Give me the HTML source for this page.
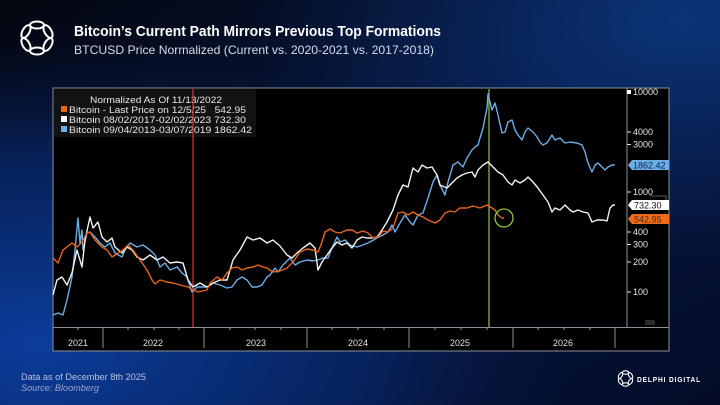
<!DOCTYPE html>
<html><head><meta charset="utf-8"><style>
html,body{margin:0;padding:0;width:720px;height:405px;overflow:hidden;background:#050c22;}
svg{display:block;font-family:"Liberation Sans",sans-serif;}
</style></head><body>
<svg width="720" height="405" viewBox="0 0 720 405" xmlns="http://www.w3.org/2000/svg">
<defs>
<radialGradient id="g1" cx="0.05" cy="0.85" r="0.75">
<stop offset="0" stop-color="#0b3d9c"/><stop offset="0.6" stop-color="#082a70" stop-opacity="0.7"/><stop offset="1" stop-color="#061a48" stop-opacity="0"/>
</radialGradient>
<radialGradient id="g2" cx="0.95" cy="0.05" r="0.6">
<stop offset="0" stop-color="#0c3478"/><stop offset="1" stop-color="#0a2a66" stop-opacity="0"/>
</radialGradient>
<linearGradient id="g0" x1="0" y1="0" x2="1" y2="1">
<stop offset="0" stop-color="#03060f"/><stop offset="0.5" stop-color="#061842"/><stop offset="1" stop-color="#040c28"/>
</linearGradient>
</defs>
<rect width="720" height="405" fill="url(#g0)"/>
<rect width="720" height="405" fill="url(#g1)"/>
<rect width="720" height="405" fill="url(#g2)"/>

<!-- logo -->
<g fill="none" stroke="#ffffff" stroke-width="2">
<ellipse cx="37" cy="25" rx="7" ry="3.5"/>
<ellipse cx="48" cy="31.5" rx="7" ry="3.5" transform="rotate(60 48 31.5)"/>
<ellipse cx="48" cy="44.5" rx="7" ry="3.5" transform="rotate(-60 48 44.5)"/>
<ellipse cx="37" cy="51" rx="7" ry="3.5"/>
<ellipse cx="26" cy="44.5" rx="7" ry="3.5" transform="rotate(60 26 44.5)"/>
<ellipse cx="26" cy="31.5" rx="7" ry="3.5" transform="rotate(-60 26 31.5)"/>
</g>

<text x="74" y="36" fill="#ffffff" font-size="15" font-weight="bold" textLength="367" lengthAdjust="spacingAndGlyphs">Bitcoin’s Current Path Mirrors Previous Top Formations</text>
<text x="74" y="54" fill="#d6dbe8" font-size="12" textLength="360" lengthAdjust="spacingAndGlyphs">BTCUSD Price Normalized (Current vs. 2020-2021 vs. 2017-2018)</text>

<!-- panel -->
<rect x="53" y="88" width="616" height="263" fill="#000000" stroke="#8a8f99" stroke-width="1"/>
<line x1="627" y1="88" x2="627" y2="327" stroke="#8a8f99" stroke-width="1"/>
<line x1="53" y1="327.5" x2="669" y2="327.5" stroke="#8a8f99" stroke-width="1"/>

<!-- legend -->
<rect x="54" y="89" width="202" height="48" fill="#121212"/>
<text x="90" y="103" fill="#e6e6e6" font-size="9" textLength="132" lengthAdjust="spacingAndGlyphs">Normalized As Of 11/13/2022</text>
<rect x="61" y="106" width="6" height="6" fill="#e8651a"/>
<rect x="61" y="116" width="6" height="6" fill="#ffffff"/>
<rect x="61" y="126" width="6" height="6" fill="#6aaee8"/>
<text x="69" y="113" fill="#e6e6e6" font-size="9" xml:space="preserve" textLength="177" lengthAdjust="spacingAndGlyphs">Bitcoin - Last Price on 12/5/25   542.95</text>
<text x="69" y="123" fill="#e6e6e6" font-size="9" textLength="177" lengthAdjust="spacingAndGlyphs">Bitcoin 08/02/2017-02/02/2023 732.30</text>
<text x="69" y="133" fill="#e6e6e6" font-size="9" textLength="183" lengthAdjust="spacingAndGlyphs">Bitcoin 09/04/2013-03/07/2019 1862.42</text>

<!-- vertical markers -->
<line x1="193" y1="89" x2="193" y2="327" stroke="#e0303a" stroke-width="1.2"/>
<line x1="489" y1="89" x2="489" y2="327" stroke="#8cc63f" stroke-width="1.2"/>

<!-- series -->
<g fill="none" stroke-width="1.4" stroke-linejoin="round">
<polyline stroke="#6aaee8" points="53,315 58,313 63,315 67,300 72,277 75,250 78,218 80,243 82,230 83,250 87,233 90,232 95,237 100,243 105,247 110,243 115,253 122,257 125,250 130,243 137,247 143,245 150,250 155,255 160,267 165,263 170,270 177,267 182,273 187,277 192,292 197,287 203,287 208,287 213,283 220,285 227,288 232,287 237,280 242,277 247,280 252,287 257,287 262,285 267,277 270,275 275,268 278,272 283,265 290,258 295,265 300,262 307,260 313,261 318,260 323,258 328,258 332,248 337,237 340,242 345,240 350,245 357,247 363,245 370,242 377,238 383,235 388,232 392,225 395,232 400,223 405,215 410,222 413,225 418,215 423,213 428,198 433,182 437,175 440,185 445,195 448,182 453,165 458,162 463,167 467,158 472,150 475,147 478,145 480,138 483,128 487,108 488,94 492,110 495,103 498,115 502,133 505,132 508,122 512,120 515,130 518,135 522,140 525,132 528,128 533,132 537,137 540,142 543,145 547,143 552,135 555,140 560,138 565,143 570,142 577,143 582,145 585,152 588,163 592,172 595,165 598,163 602,167 605,170 608,167 612,165 615,165"/>
<polyline stroke="#f2f2f2" points="53,295 57,280 62,277 67,285 72,273 77,250 82,267 85,240 90,217 93,228 98,222 102,237 107,242 112,238 115,247 122,253 127,247 132,250 137,257 143,260 150,255 157,260 163,257 170,263 177,262 183,263 188,280 193,287 200,283 207,287 213,283 220,280 227,280 233,260 240,250 247,237 253,240 260,238 267,243 273,240 280,246 287,255 292,258 297,253 303,248 310,243 315,248 318,270 322,262 327,255 332,248 337,242 342,245 347,243 352,248 357,240 362,237 367,238 372,238 377,237 382,230 387,222 393,210 398,195 403,185 408,187 413,168 418,172 422,165 427,168 432,167 437,175 440,185 447,188 452,183 457,178 462,175 467,173 472,172 475,177 478,170 483,165 488,162 493,167 498,172 503,175 508,182 512,185 515,180 520,183 525,180 528,177 533,182 538,188 543,195 548,202 552,212 555,208 560,210 565,205 570,210 573,212 578,210 583,212 588,213 592,222 597,220 603,220 607,221 610,208 613,205 615,205"/>
<polyline stroke="#e8651a" points="53,258 58,263 63,250 72,243 77,247 82,242 87,233 90,232 95,240 102,247 107,250 112,257 118,253 123,250 128,245 133,250 140,260 147,270 152,280 155,284 160,280 167,282 173,283 180,285 188,287 193,290 198,292 207,290 210,283 217,277 222,280 227,273 232,268 237,267 242,270 247,268 253,267 258,265 263,267 267,268 273,272 280,271 287,268 293,262 300,252 307,249 313,250 318,252 322,242 325,232 330,229 335,232 340,233 347,230 352,230 357,233 363,231 368,233 373,238 378,237 383,231 388,232 393,228 398,213 403,212 408,215 413,212 418,215 423,217 428,220 435,223 440,220 445,213 450,211 455,212 460,208 467,208 473,206 480,208 487,205 492,208 495,210 498,215 502,218 504,218"/>
</g>
<circle cx="504" cy="218" r="9" fill="none" stroke="#8cc63f" stroke-width="1.3"/>

<!-- y axis -->
<g stroke="#dddddd" stroke-width="1">
<line x1="627" y1="92" x2="631" y2="92"/>
<line x1="627" y1="132" x2="631" y2="132"/>
<line x1="627" y1="144.5" x2="631" y2="144.5"/>
<line x1="627" y1="192" x2="631" y2="192"/>
<line x1="627" y1="232" x2="631" y2="232"/>
<line x1="627" y1="244.5" x2="631" y2="244.5"/>
<line x1="627" y1="262" x2="631" y2="262"/>
<line x1="627" y1="292" x2="631" y2="292"/>
</g>
<polygon points="627,90 631,90 631,94 627,94" fill="#ffffff"/>
<g fill="#e8e8e8" font-size="9">
<text x="633" y="95">10000</text>
<text x="633" y="135">4000</text>
<text x="633" y="147.5">3000</text>
<text x="633" y="195">1000</text>
<text x="633" y="235">400</text>
<text x="633" y="247.5">300</text>
<text x="633" y="265">200</text>
<text x="633" y="295">100</text>
</g>
<polyline points="650,196 666,196 666,200" fill="none" stroke="#777" stroke-width="0.8"/>
<!-- tags -->
<polygon points="628,165 632,160 669,160 669,170 632,170" fill="#6aaee8"/>
<text x="633" y="168.5" fill="#0b2344" font-size="9">1862.42</text>
<polygon points="628,205 632,200 669,200 669,210 632,210" fill="#ffffff"/>
<text x="634" y="208.5" fill="#111111" font-size="9">732.30</text>
<polygon points="628,219 632,214 669,214 669,224 632,224" fill="#f06a1c"/>
<text x="634" y="222.5" fill="#4a2a18" font-size="9">542.95</text>
<rect x="645" y="320" width="10" height="5" fill="#2a2a2a"/>

<!-- x axis -->
<g stroke="#8a8f99" stroke-width="1">
<line x1="103" y1="327" x2="103" y2="348"/>
<line x1="204" y1="327" x2="204" y2="348"/>
<line x1="307" y1="327" x2="307" y2="348"/>
<line x1="409" y1="327" x2="409" y2="348"/>
<line x1="513" y1="327" x2="513" y2="348"/>
<line x1="615" y1="327" x2="615" y2="348"/>
</g>
<g stroke="#8a8f99" stroke-width="1">
<line x1="78" y1="327" x2="78" y2="330"/>
<line x1="128" y1="327" x2="128" y2="330"/><line x1="154" y1="327" x2="154" y2="330"/><line x1="179" y1="327" x2="179" y2="330"/>
<line x1="230" y1="327" x2="230" y2="330"/><line x1="255" y1="327" x2="255" y2="330"/><line x1="281" y1="327" x2="281" y2="330"/>
<line x1="332" y1="327" x2="332" y2="330"/><line x1="358" y1="327" x2="358" y2="330"/><line x1="384" y1="327" x2="384" y2="330"/>
<line x1="435" y1="327" x2="435" y2="330"/><line x1="461" y1="327" x2="461" y2="330"/><line x1="487" y1="327" x2="487" y2="330"/>
<line x1="538" y1="327" x2="538" y2="330"/><line x1="564" y1="327" x2="564" y2="330"/><line x1="590" y1="327" x2="590" y2="330"/>
</g>
<g fill="#e0e0e0" font-size="9" text-anchor="middle">
<text x="78" y="346">2021</text>
<text x="153" y="346">2022</text>
<text x="256" y="346">2023</text>
<text x="358" y="346">2024</text>
<text x="460" y="346">2025</text>
<text x="563" y="346">2026</text>
</g>

<!-- footer -->
<text x="21" y="380" fill="#b8c2dc" font-size="9.5" textLength="125" lengthAdjust="spacingAndGlyphs">Data as of December 8th 2025</text>
<text x="21" y="391" fill="#9aa6c6" font-size="9.5" font-style="italic" textLength="78" lengthAdjust="spacingAndGlyphs">Source: Bloomberg</text>

<g fill="none" stroke="#ffffff" stroke-width="1.1">
<ellipse cx="625.5" cy="372.5" rx="3.2" ry="1.7"/>
<ellipse cx="630.5" cy="375.5" rx="3.2" ry="1.7" transform="rotate(60 630.5 375.5)"/>
<ellipse cx="630.5" cy="381.5" rx="3.2" ry="1.7" transform="rotate(-60 630.5 381.5)"/>
<ellipse cx="625.5" cy="384.5" rx="3.2" ry="1.7"/>
<ellipse cx="620.5" cy="381.5" rx="3.2" ry="1.7" transform="rotate(60 620.5 381.5)"/>
<ellipse cx="620.5" cy="375.5" rx="3.2" ry="1.7" transform="rotate(-60 620.5 375.5)"/>
</g>
<text x="637" y="382" fill="#ffffff" font-size="7.5" font-weight="bold" letter-spacing="1" textLength="64" lengthAdjust="spacingAndGlyphs">DELPHI DIGITAL</text>
</svg>
</body></html>
